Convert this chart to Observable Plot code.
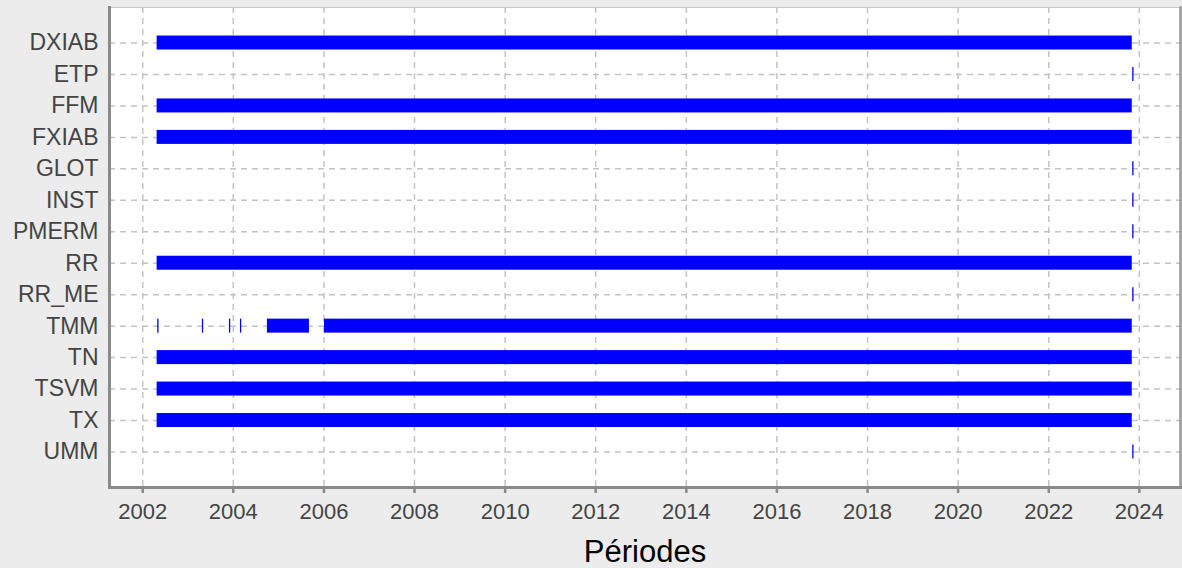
<!DOCTYPE html>
<html>
<head>
<meta charset="utf-8">
<script src="https://cdn.jsdelivr.net/npm/d3@7"></script>
<script src="https://cdn.jsdelivr.net/npm/@observablehq/plot@0.6"></script>
<style>
  html, body { margin: 0; padding: 0; background: #ececec; }
  #chart svg { display: block; }
</style>
</head>
<body>
<div id="chart"></div>
<script>
// Categories (top to bottom)
const categories = ["DXIAB", "ETP", "FFM", "FXIAB", "GLOT", "INST", "PMERM", "RR", "RR_ME", "TMM", "TN", "TSVM", "TX", "UMM"];

// Periods with data (continuous intervals)
const periodSeries = ["DXIAB", "FFM", "FXIAB", "RR", "TMM", "TMM", "TN", "TSVM", "TX"];
const periodStart  = ["2002-04-27", "2002-04-27", "2002-04-27", "2002-04-27", "2004-10-02", "2006-01-05", "2002-04-27", "2002-04-27", "2002-04-27"];
const periodEnd    = ["2023-11-05", "2023-11-05", "2023-11-05", "2023-11-05", "2005-09-06", "2023-11-05", "2023-11-05", "2023-11-05", "2023-11-05"];

// Isolated single dates
const pointSeries = ["ETP", "GLOT", "INST", "PMERM", "RR_ME", "UMM", "TMM", "TMM", "TMM", "TMM"];
const pointDates  = ["2023-11-10", "2023-11-10", "2023-11-10", "2023-11-10", "2023-11-10", "2023-11-10", "2002-05-03", "2003-04-28", "2003-12-02", "2004-02-29"];

// Axis
const xDomain = ["2001-04-08", "2024-11-28"];
const xTicks = ["2002","2004","2006","2008","2010","2012","2014","2016","2018","2020","2022","2024"];
const xTitle = "Périodes";

const parse = d3.utcParse("%Y-%m-%d");
const periods = periodSeries.map((s, i) => ({series: s, start: parse(periodStart[i]), end: parse(periodEnd[i])}));
const points = pointSeries.map((s, i) => ({series: s, date: parse(pointDates[i])}));
const tickDates = xTicks.map(t => d3.utcParse("%Y")(t));

const chart = Plot.plot({
  width: 1182,
  height: 568,
  marginLeft: 109,
  marginRight: 2,
  marginTop: 7,
  marginBottom: 81,
  style: {fontFamily: "'Liberation Sans', Arial, sans-serif", background: "#ececec", overflow: "visible"},
  x: {type: "utc", domain: xDomain.map(parse)},
  y: {type: "band", domain: categories, paddingInner: 0.555, paddingOuter: 0.907, align: 0.5, round: false},
  marks: [
    Plot.frame({fill: "white", stroke: "none"}),
    Plot.gridX(tickDates, {stroke: "#c4c4c4", strokeOpacity: 1, strokeWidth: 1.5, strokeDasharray: "6,5"}),
    Plot.gridY(categories, {stroke: "#c4c4c4", strokeOpacity: 1, strokeWidth: 1.5, strokeDasharray: "6,5"}),
    Plot.barX(periods, {x1: "start", x2: "end", y: "series", fill: "#0000ff"}),
    Plot.tickX(points, {x: "date", y: "series", stroke: "#0000ff", strokeWidth: 1.3}),
    Plot.frame({anchor: "top", stroke: "#c8c8c8", strokeWidth: 1}),
    Plot.frame({anchor: "right", stroke: "#9a9a9a", strokeWidth: 2.5}),
    Plot.frame({anchor: "left", stroke: "#8a8a8a", strokeWidth: 3}),
    Plot.frame({anchor: "bottom", stroke: "#8a8a8a", strokeWidth: 3}),
    Plot.axisX(tickDates, {
      tickFormat: d3.utcFormat("%Y"), tickSize: 6, tickPadding: 10, stroke: "#8a8a8a", strokeWidth: 2.5,
      fontSize: 22, fill: "#444", label: null
    }),
    Plot.axisY({tickSize: 0, tickPadding: 11, fontSize: 23, fill: "#444", label: null}),
    Plot.text([xTitle], {frameAnchor: "bottom", dy: 74, fontSize: 31, fill: "#000", text: d => d})
  ]
});
document.getElementById("chart").appendChild(chart);
</script>
</body>
</html>
